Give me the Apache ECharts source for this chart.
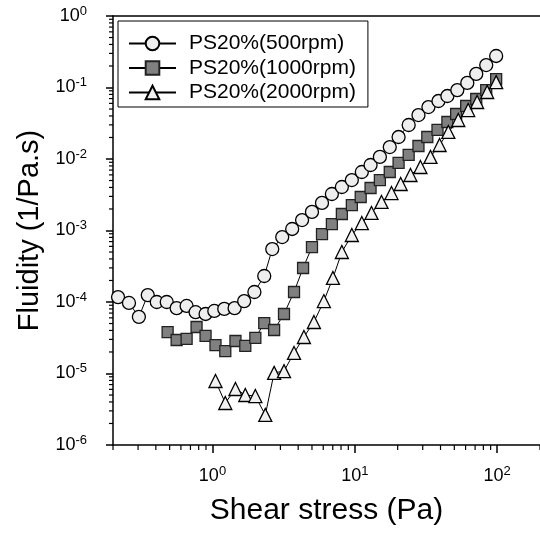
<!DOCTYPE html>
<html>
<head>
<meta charset="utf-8">
<script src="https://cdn.jsdelivr.net/npm/echarts@6/dist/echarts.min.js"></script>
<style>html,body{margin:0;padding:0;background:#fff}#c{width:540px;height:535px}</style>
</head>
<body>
<div id="c"></div>
<script>
// ---- data ----
const seriesNames = ['PS20%(500rpm)', 'PS20%(1000rpm)', 'PS20%(2000rpm)'];

const x500 = [0.217,0.259,0.304,0.351,0.406,0.477,0.560,0.658,0.761,0.894,1.03,1.21,1.43,1.67,1.97,2.31,2.63,3.09,3.63,4.26,5.00,5.88,6.90,8.11,9.53,11.2,12.9,15.0,17.6,20.3,23.9,28.0,32.9,38.7,44.7,52.5,61.7,71.3,83.8,98.4];
const y500 = [1.17e-4,9.7e-5,6.2e-5,1.25e-4,1.0e-4,1.0e-4,8.2e-5,8.8e-5,7.2e-5,6.8e-5,7.5e-5,8.0e-5,8.2e-5,1.03e-4,1.38e-4,2.31e-4,5.5e-4,8.1e-4,1.05e-3,1.40e-3,1.82e-3,2.43e-3,3.24e-3,4.06e-3,5.08e-3,6.58e-3,8.24e-3,1.07e-2,1.47e-2,2.03e-2,2.99e-2,4.12e-2,5.33e-2,6.47e-2,7.6e-2,9.2e-2,0.116,0.155,0.206,0.276];

const x1000 = [0.484,0.560,0.658,0.773,0.894,1.05,1.23,1.45,1.70,2.00,2.31,2.71,3.18,3.74,4.33,5.00,5.88,6.90,8.11,9.53,11.0,12.9,15.0,17.6,20.3,23.9,28.0,32.3,38.1,44.7,51.5,60.6,71.3,83.8,98.4];
const y1000 = [3.8e-5,2.94e-5,3.04e-5,4.47e-5,3.35e-5,2.5e-5,2.06e-5,2.85e-5,2.43e-5,3.14e-5,5.08e-5,4.06e-5,6.8e-5,1.38e-4,2.99e-4,5.87e-4,8.9e-4,1.23e-3,1.70e-3,2.27e-3,2.94e-3,3.93e-3,5.08e-3,6.58e-3,8.8e-3,1.14e-2,1.52e-2,2.03e-2,2.55e-2,3.29e-2,4.26e-2,5.51e-2,6.9e-2,9.2e-2,0.131];

const x2000 = [1.05,1.23,1.45,1.70,2.00,2.35,2.71,3.18,3.74,4.39,5.16,6.06,7.02,8.11,9.53,11.2,13.1,15.4,18.1,21.0,24.6,28.9,34.0,39.4,45.4,53.3,62.6,72.3,85.1,98.4];
const y2000 = [7.85e-6,3.87e-6,6.07e-6,5.0e-6,4.84e-6,2.63e-6,1.02e-5,1.08e-5,1.94e-5,3.24e-5,5.25e-5,1.03e-4,2.17e-4,5.0e-4,8.65e-4,1.27e-3,1.76e-3,2.51e-3,3.34e-3,4.47e-3,5.97e-3,7.73e-3,1.07e-2,1.57e-2,2.39e-2,3.51e-2,4.84e-2,6.27e-2,8.65e-2,0.119];

const xTickValues = [1, 10, 100];        // labelled x ticks: 10^0 .. 10^2
const yTickValues = [1e-6,1e-5,1e-4,1e-3,1e-2,1e-1,1];
const xRange = [0.2, 200];
const yRange = [1e-6, 1];

// ---- chart ----
const FONT = '"Liberation Sans", Arial, sans-serif';
const pair = (xs, ys) => xs.map((v, i) => [v, ys[i]]);
function powLabel(v) {
  const e = Math.round(Math.log10(v));
  if (Math.abs(Math.log10(v) - e) > 1e-6) return '';
  return '{b|10}{s|' + e + '}';
}
const rich = {
  b: { fontSize: 18, fontFamily: FONT, color: '#000' },
  s: { fontSize: 13, fontFamily: FONT, color: '#000', padding: [0, 0, 10, 0] }
};

const chart = echarts.init(document.getElementById('c'), null, { renderer: 'canvas' });
const lineStyle = { color: '#000', width: 1 };
chart.setOption({
  animation: false,
  backgroundColor: '#fff',
  grid: { left: 113, top: 16, right: -2, bottom: 90, containLabel: false },
  legend: {
    left: 118, top: 21, orient: 'vertical',
    data: seriesNames,
    backgroundColor: '#fff',
    borderColor: '#000', borderWidth: 1,
    padding: [12, 12, 4, 10],
    itemWidth: 47, itemHeight: 17, itemGap: 3.5,
    textStyle: { fontSize: 21, fontFamily: FONT, color: '#000', padding: [0, 0, 0, 8] }
  },
  xAxis: [{
    type: 'log', logBase: 10, min: xRange[0], max: xRange[1],
    name: 'Shear stress (Pa)', nameLocation: 'middle', nameGap: 51,
    nameTextStyle: { fontSize: 30, fontFamily: FONT, color: '#000' },
    axisLine: { lineStyle: { color: '#000', width: 1.5 } },
    axisTick: { show: true, inside: false, length: 8, customValues: xTickValues, lineStyle: { color: '#000', width: 1.5 } },
    axisLabel: { margin: 20, customValues: xTickValues, formatter: powLabel, rich: rich },
    splitLine: { show: false }
  }, {
    type: 'log', position: 'top', min: xRange[0], max: xRange[1],
    axisLine: { show: true, lineStyle: { color: '#000', width: 1.5 } },
    axisTick: { show: false }, axisLabel: { show: false }, splitLine: { show: false }
  }],
  yAxis: [{
    type: 'log', logBase: 10, min: yRange[0], max: yRange[1],
    name: 'Fluidity (1/Pa.s)', nameLocation: 'middle', nameGap: 68,
    nameTextStyle: { fontSize: 29, fontFamily: FONT, color: '#000' },
    axisLine: { lineStyle: { color: '#000', width: 1.5 } },
    axisTick: { show: true, inside: false, length: 7, customValues: yTickValues, lineStyle: { color: '#000', width: 1.5 } },
    axisLabel: { margin: 26, customValues: yTickValues, formatter: powLabel, rich: rich },
    splitLine: { show: false }
  }],
  series: [{
    name: seriesNames[0], type: 'line', data: pair(x500, y500),
    symbol: 'circle', symbolSize: 13, z: 2,
    lineStyle: lineStyle,
    itemStyle: { color: '#eeeeee', borderColor: '#000', borderWidth: 1.3 }
  }, {
    name: seriesNames[1], type: 'line', data: pair(x1000, y1000),
    symbol: 'rect', symbolSize: 11, z: 3,
    lineStyle: lineStyle,
    itemStyle: { color: '#808080', borderColor: '#222', borderWidth: 1.3 }
  }, {
    name: seriesNames[2], type: 'line', data: pair(x2000, y2000),
    symbol: 'triangle', symbolSize: 13, z: 4,
    lineStyle: lineStyle,
    itemStyle: { color: '#f2f2f2', borderColor: '#000', borderWidth: 1.3 }
  }]
});

// minor ticks at 2..9 x 10^k placed through the axes' own scales
function addMinorTicks() {
  const els = [];
  const yBottom = chart.convertToPixel({ yAxisIndex: 0 }, yRange[0]);
  const xLeft = chart.convertToPixel({ xAxisIndex: 0 }, xRange[0]);
  for (let k = -1; k <= 2; k++) {
    for (let m = 2; m <= 9; m++) {
      const v = m * Math.pow(10, k);
      if (v < xRange[0] - 1e-9 || v > xRange[1] + 1e-9) continue;
      const px = chart.convertToPixel({ xAxisIndex: 0 }, v);
      els.push({ type: 'line', shape: { x1: px, y1: yBottom, x2: px, y2: yBottom + 5 }, style: { stroke: '#000', lineWidth: 1.2 }, silent: true });
    }
  }
  for (let k = -6; k < 0; k++) {
    for (let m = 2; m <= 9; m++) {
      const v = m * Math.pow(10, k);
      const py = chart.convertToPixel({ yAxisIndex: 0 }, v);
      els.push({ type: 'line', shape: { x1: xLeft - 4, y1: py, x2: xLeft, y2: py }, style: { stroke: '#000', lineWidth: 1.2 }, silent: true });
    }
  }
  chart.setOption({ graphic: els });
}
addMinorTicks();
</script>
</body>
</html>
